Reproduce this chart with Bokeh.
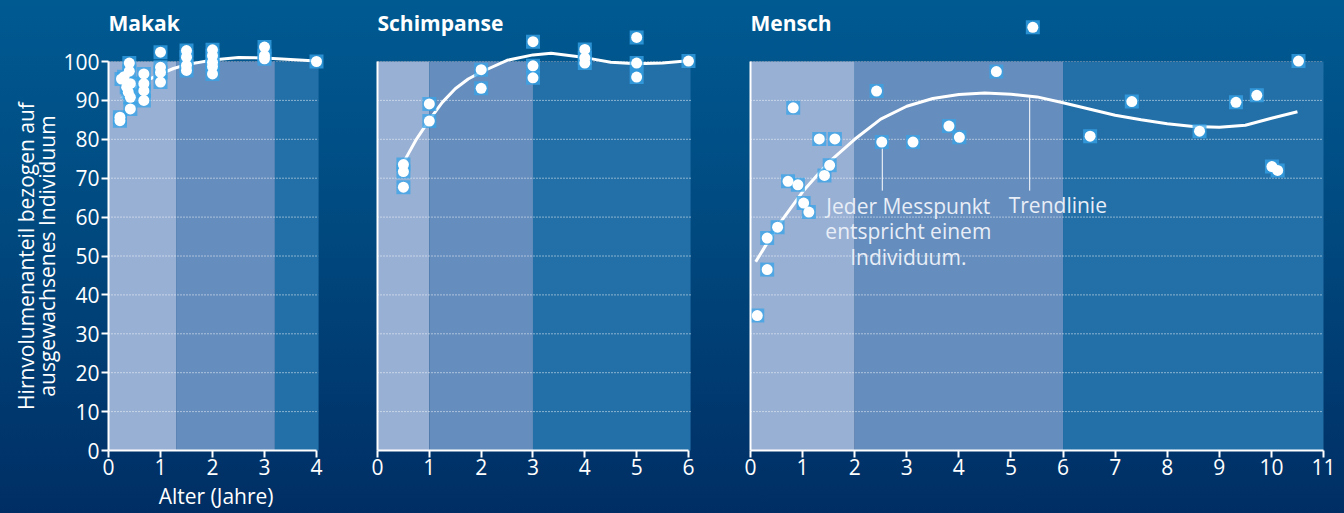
import math
from bokeh.plotting import figure
from bokeh.layouts import row
from bokeh.models import FixedTicker, Label, Range1d, GlobalInlineStyleSheet
from bokeh.embed import file_html
from bokeh.resources import INLINE

FONT = "Open Sans"

# ---------------- data ----------------
makak_age = [0.22, 0.22, 0.25, 0.3, 0.35, 0.38, 0.4, 0.4, 0.42, 0.42, 0.42,
             0.68, 0.68, 0.68, 0.68,
             1.0, 1.0, 1.0, 1.0,
             1.5, 1.5, 1.5, 1.5,
             2.0, 2.0, 2.0, 2.0, 2.0,
             3.0, 3.0, 3.0,
             4.0]
makak_vol = [85.7, 84.8, 95.5, 96.1, 93.4, 92.1, 99.6, 97.5, 94.3, 90.8, 87.8,
             96.8, 94.3, 92.5, 90.0,
             102.4, 98.5, 97.2, 94.7,
             102.8, 101.1, 99.0, 97.7,
             103.0, 101.5, 99.8, 98.7, 96.8,
             103.7, 101.5, 100.7,
             100.0]
makak_trend_age = [0.25, 0.5, 0.75, 1.0, 1.25, 1.5, 2.0, 2.5, 3.0, 3.5, 4.0]
makak_trend_vol = [90.5, 93.3, 95.2, 96.8, 98.2, 99.2, 100.4, 101.0, 100.9, 100.5, 100.1]
makak_phase_edges = [0, 1.3, 3.2, 4.04]
makak_x_ticks = [0, 1, 2, 3, 4]

schimp_age = [0.5, 0.5, 0.5, 1, 1, 2, 2, 3, 3, 3, 4, 4, 4, 5, 5, 5, 6]
schimp_vol = [73.5, 71.7, 67.7, 89.1, 84.7, 97.9, 93.1, 105.1, 98.9, 95.8,
              103.1, 100.9, 99.6, 106.2, 99.6, 96.0, 100.1]
schimp_trend_age = [0.5, 0.75, 1.0, 1.25, 1.5, 1.75, 2.0, 2.5, 3.0, 3.35, 4.0, 4.5, 5.0, 5.5, 6.0]
schimp_trend_vol = [74.0, 80.0, 85.0, 89.5, 93.0, 95.5, 97.3, 100.3, 101.7, 102.1, 101.0, 99.8, 99.4, 99.6, 100.2]
schimp_phase_edges = [0, 1, 3, 6.04]
schimp_x_ticks = [0, 1, 2, 3, 4, 5, 6]

mensch_age = [0.13, 0.32, 0.32, 0.52, 0.72, 0.82, 0.91, 1.02, 1.12, 1.32, 1.42, 1.52, 1.62,
              2.42, 2.52, 3.12, 3.81, 4.01, 4.72, 5.42, 6.52, 7.32, 8.62, 9.32, 9.72,
              10.01, 10.12, 10.52]
mensch_vol = [34.7, 46.5, 54.6, 57.4, 69.2, 88.1, 68.3, 63.6, 61.3, 80.1, 70.7, 73.3, 80.1,
              92.4, 79.3, 79.3, 83.4, 80.5, 97.4, 108.8, 80.8, 89.7, 82.1, 89.5, 91.3,
              73.0, 72.0, 100.1]
mensch_trend_age = [0.1, 0.5, 1.0, 1.5, 2.0, 2.5, 3.0, 3.5, 4.0, 4.5, 5.0, 5.5, 6.0, 6.5,
                    7.0, 7.5, 8.0, 8.5, 9.0, 9.5, 10.0, 10.5]
mensch_trend_vol = [48.5, 57.3, 66.5, 74.1, 80.0, 85.2, 88.5, 90.5, 91.5, 91.9, 91.6, 90.9,
                    89.4, 87.8, 86.2, 85.0, 84.0, 83.3, 83.1, 83.6, 85.4, 87.1]
mensch_phase_edges = [0, 2, 6, 11.0]
mensch_x_ticks = list(range(0, 12))

y_ticks = [0, 10, 20, 30, 40, 50, 60, 70, 80, 90, 100]
grid_ticks = [10, 20, 30, 40, 50, 60, 70, 80, 90]
top_line = [100]

# annotation (Mensch panel)
note_point_text = "Jeder Messpunkt\nentspricht einem\nIndividuum."
note_trend_text = "Trendlinie"
pointer_x = [2.53, 5.36]
pointer_top = [77.6, 90.8]
pointer_bottom = [66.8, 66.8]

PHASE_COLORS = ["#98b0d4", "#658dbd", "#2370a8"]

# ---------------- layout geometry (pixels) ----------------
H = 513
AXIS_Y = 450          # pixel row of value 0
PX_PER_PCT = 3.89     # pixels per percentage point
Y_START = -(H - AXIS_Y) / PX_PER_PCT
Y_END = AXIS_Y / PX_PER_PCT


def panel(title, xs, ys, tx, ty, edges, xticks, width, left_px, px_per_year, first):
    x_start = -left_px / px_per_year
    x_end = (width - left_px) / px_per_year
    p = figure(width=width, height=H, x_range=Range1d(x_start, x_end),
               y_range=Range1d(Y_START, Y_END),
               output_backend="svg", toolbar_location=None,
               min_border=0, min_border_left=0, min_border_right=0,
               min_border_top=0, min_border_bottom=0)
    p.background_fill_alpha = 0
    p.border_fill_alpha = 0
    p.outline_line_color = None
    p.xgrid.visible = False
    p.ygrid.visible = False

    # developmental phases
    p.quad(left=edges[:-1], right=edges[1:], bottom=0, top=100,
           fill_color=PHASE_COLORS, line_color=None)
    # dotted grid lines limited to the plotting area
    p.segment(x0=0, y0=grid_ticks, x1=edges[-1], y1=grid_ticks,
              line_color="white", line_alpha=0.95, line_dash="1 2", line_width=1)
    p.segment(x0=0, y0=top_line, x1=edges[-1], y1=top_line,
              line_color="#9aa3b0", line_dash="1 2", line_width=1)

    for ax in (p.xaxis, p.yaxis):
        ax.fixed_location = 0
        ax.axis_line_color = "white"
        ax.axis_line_width = 2
        ax.major_tick_line_color = "white"
        ax.major_tick_line_width = 2
        ax.major_tick_in = 0
        ax.major_tick_out = 7
        ax.minor_tick_line_color = None
        ax.major_label_text_color = "white"
        ax.major_label_text_font = FONT
        ax.major_label_text_font_size = "21px"
    p.xaxis.ticker = FixedTicker(ticks=xticks)
    p.xaxis.bounds = (0, xticks[-1])
    p.xaxis.major_label_standoff = 1
    p.yaxis.ticker = FixedTicker(ticks=y_ticks)
    p.yaxis.bounds = (0, 100)
    p.yaxis.major_label_standoff = 2
    if not first:
        p.yaxis.major_tick_line_color = None
        p.yaxis.major_tick_out = 0
        p.yaxis.major_label_overrides = {t: "" for t in y_ticks}

    p.line(tx, ty, line_color="white", line_width=3)
    p.scatter(xs, ys, marker="square", size=14, fill_color="#38a4e8", fill_alpha=0.75, line_color=None)
    p.scatter(xs, ys, marker="circle", size=11, fill_color="white", line_color=None)

    p.add_layout(Label(x=0, y=110, text=title, text_font=FONT, text_font_style="bold",
                       text_font_size="21px", text_color="white", text_baseline="middle",
                       text_align="left", x_offset=0))
    return p


p1 = panel("Makak", makak_age, makak_vol, makak_trend_age, makak_trend_vol,
           makak_phase_edges, makak_x_ticks, 348, 108, 52.0, True)
p1.add_layout(Label(x=-1.385, y=50, text="Hirnvolumenanteil bezogen auf\nausgewachsenes Individuum",
                    angle=math.pi / 2, text_align="center", text_baseline="middle",
                    text_font=FONT, text_font_size="21px", text_color="white",
                    text_line_height=0.77))
p1.add_layout(Label(x=2.07, y=-11.8, text="Alter (Jahre)", text_align="center",
                    text_baseline="middle", text_font=FONT, text_font_size="21px",
                    text_color="white"))

p2 = panel("Schimpanse", schimp_age, schimp_vol, schimp_trend_age, schimp_trend_vol,
           schimp_phase_edges, schimp_x_ticks, 372, 29, 51.83, False)

p3 = panel("Mensch", mensch_age, mensch_vol, mensch_trend_age, mensch_trend_vol,
           mensch_phase_edges, mensch_x_ticks, 624, 30, 52.09, False)
p3.segment(x0=pointer_x, y0=pointer_top, x1=pointer_x, y1=pointer_bottom,
           line_color="white", line_width=1)
p3.add_layout(Label(x=3.03, y=56.3, text=note_point_text, text_align="center",
                    text_baseline="middle", text_font=FONT, text_font_size="21px",
                    text_color="#e8eef7", text_line_height=0.91))
p3.add_layout(Label(x=5.9, y=63.0, text=note_trend_text, text_align="center",
                    text_baseline="middle", text_font=FONT, text_font_size="21px",
                    text_color="#e8eef7"))

bg = GlobalInlineStyleSheet(css=(
    "html,body{margin:0;padding:0;overflow:hidden;}"
    "html{min-height:100%;background:linear-gradient(to bottom,#005a92 0%,#00497f 45%,#002e64 100%);}"
))
layout = row(p1, p2, p3, stylesheets=[bg])

open("out.html", "w").write(file_html(layout, INLINE))
